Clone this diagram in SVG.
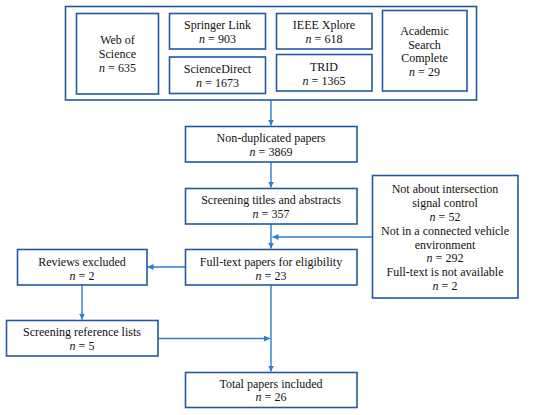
<svg xmlns="http://www.w3.org/2000/svg" width="550" height="415" viewBox="0 0 550 415">
<defs>
<style>
.box{fill:#fff;stroke:#2458a0;stroke-width:1.6}
.t{font-family:"Liberation Serif","Times New Roman",serif;font-size:12px;fill:#111;text-anchor:middle}
.i{font-style:italic}
.c{fill:none;stroke:#2d7bd3;stroke-width:1.4}
</style>
<marker id="ah" markerWidth="8" markerHeight="8" refX="6" refY="3" orient="auto" markerUnits="userSpaceOnUse">
<path d="M0,0 L6,3 L0,6 Z" fill="#2d7bd3"/>
</marker>
</defs>
<rect width="550" height="415" fill="#fff"/>
<g id="sources">
<rect class="box" x="65.5" y="6.5" width="411" height="93.5"/>
<g id="wos"><rect class="box" x="76.5" y="13.5" width="82" height="80.5"/>
<text class="t" x="117.5" y="44">Web of</text><text class="t" x="117.5" y="57.5">Science</text><text class="t" x="117.5" y="71.5"><tspan class="i">n</tspan> = 635</text></g>
<g id="springer"><rect class="box" x="169.5" y="13.5" width="96" height="35.5"/>
<text class="t" x="217.5" y="29">Springer Link</text><text class="t" x="217.5" y="42.5"><tspan class="i">n</tspan> = 903</text></g>
<g id="sciencedirect"><rect class="box" x="169.5" y="57" width="96" height="36.5"/>
<text class="t" x="217.5" y="73">ScienceDirect</text><text class="t" x="217.5" y="86.5"><tspan class="i">n</tspan> = 1673</text></g>
<g id="ieee"><rect class="box" x="276.5" y="13.5" width="95.5" height="35.5"/>
<text class="t" x="324" y="29">IEEE Xplore</text><text class="t" x="324" y="42.5"><tspan class="i">n</tspan> = 618</text></g>
<g id="trid"><rect class="box" x="276.5" y="54.5" width="95.5" height="36.5"/>
<text class="t" x="324" y="71">TRID</text><text class="t" x="324" y="84.5"><tspan class="i">n</tspan> = 1365</text></g>
<g id="academic"><rect class="box" x="382.5" y="10.5" width="84.5" height="80.5"/>
<text class="t" x="424.5" y="35">Academic</text><text class="t" x="424.5" y="48.5">Search</text><text class="t" x="424.5" y="62">Complete</text><text class="t" x="424.5" y="76"><tspan class="i">n</tspan> = 29</text></g>
</g>
<g id="connectors">
<line class="c" x1="271" y1="100" x2="271" y2="125.5" marker-end="url(#ah)"/>
<line class="c" x1="271" y1="162" x2="271" y2="187.5" marker-end="url(#ah)"/>
<line class="c" x1="271" y1="224" x2="271" y2="248.5" marker-end="url(#ah)"/>
<line class="c" x1="372" y1="237" x2="272.5" y2="237" marker-end="url(#ah)"/>
<line class="c" x1="185" y1="267" x2="147.5" y2="267" marker-end="url(#ah)"/>
<line class="c" x1="82" y1="285" x2="82" y2="319.5" marker-end="url(#ah)"/>
<line class="c" x1="158" y1="338.5" x2="270" y2="338.5" marker-end="url(#ah)"/>
<line class="c" x1="271" y1="285" x2="271" y2="371.5" marker-end="url(#ah)"/>
</g>
<g id="nondup"><rect class="box" x="185.5" y="126.5" width="171.5" height="35.5"/>
<text class="t" x="271" y="142">Non-duplicated papers</text><text class="t" x="271" y="155.5"><tspan class="i">n</tspan> = 3869</text></g>
<g id="screening"><rect class="box" x="185.5" y="188.5" width="171.5" height="35.5"/>
<text class="t" x="271" y="204">Screening titles and abstracts</text><text class="t" x="271" y="217.5"><tspan class="i">n</tspan> = 357</text></g>
<g id="fulltext"><rect class="box" x="185.5" y="249.5" width="171.5" height="35.5"/>
<text class="t" x="271" y="266">Full-text papers for eligibility</text><text class="t" x="271" y="279.5"><tspan class="i">n</tspan> = 23</text></g>
<g id="excluded"><rect class="box" x="372.5" y="175.5" width="145.5" height="122.5"/>
<text class="t" x="445" y="193">Not about intersection</text>
<text class="t" x="445" y="207">signal control</text>
<text class="t" x="445" y="221"><tspan class="i">n</tspan> = 52</text>
<text class="t" x="445" y="235">Not in a connected vehicle</text>
<text class="t" x="445" y="248.5">environment</text>
<text class="t" x="445" y="262"><tspan class="i">n</tspan> = 292</text>
<text class="t" x="445" y="276">Full-text is not available</text>
<text class="t" x="445" y="289.5"><tspan class="i">n</tspan> = 2</text></g>
<g id="reviews"><rect class="box" x="17.5" y="249.5" width="129.5" height="35.5"/>
<text class="t" x="82" y="266">Reviews excluded</text><text class="t" x="82" y="279.5"><tspan class="i">n</tspan> = 2</text></g>
<g id="reflists"><rect class="box" x="6.5" y="320.5" width="151.5" height="35.5"/>
<text class="t" x="82" y="336">Screening reference lists</text><text class="t" x="82" y="349.5"><tspan class="i">n</tspan> = 5</text></g>
<g id="total"><rect class="box" x="185.5" y="372.5" width="171.5" height="35"/>
<text class="t" x="271" y="387.5">Total papers included</text><text class="t" x="271" y="401"><tspan class="i">n</tspan> = 26</text></g>
</svg>
